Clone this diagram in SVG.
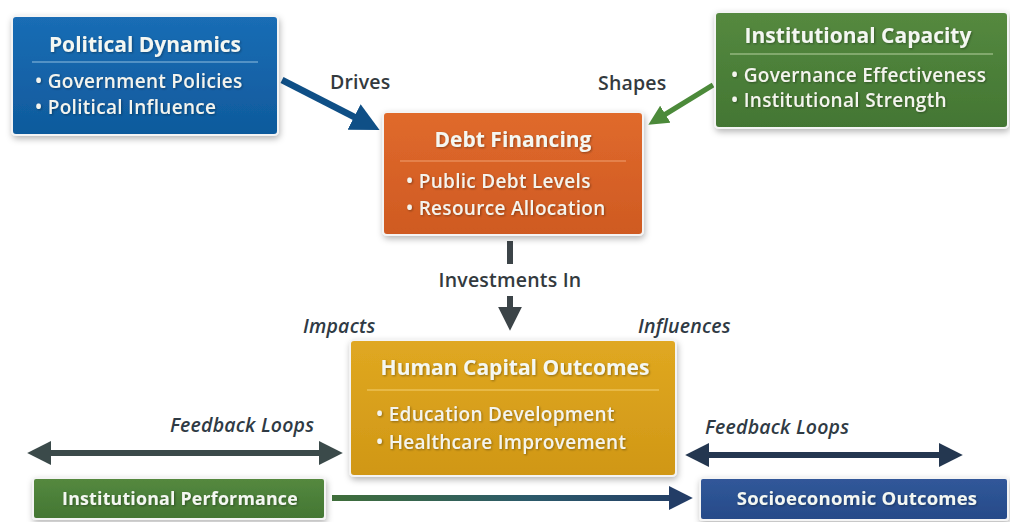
<svg xmlns="http://www.w3.org/2000/svg" width="1010" height="522" viewBox="0 0 1010 522">
  <defs>
    <filter id="shadow" x="-10%" y="-10%" width="125%" height="135%">
      <feDropShadow dx="1" dy="3" stdDeviation="3" flood-color="#000" flood-opacity="0.28"/>
    </filter>
    <filter id="tshadow" x="-5%" y="-20%" width="110%" height="150%">
      <feDropShadow dx="1" dy="1" stdDeviation="0.8" flood-color="#000" flood-opacity="0.35"/>
    </filter>
    <linearGradient id="gBlue" x1="0" y1="0" x2="0" y2="1">
      <stop offset="0" stop-color="#1a6db5"/>
      <stop offset="1" stop-color="#0f5a9c"/>
    </linearGradient>
    <linearGradient id="gGreen" x1="0" y1="0" x2="0" y2="1">
      <stop offset="0" stop-color="#55893f"/>
      <stop offset="1" stop-color="#437633"/>
    </linearGradient>
    <linearGradient id="gOrange" x1="0" y1="0" x2="0" y2="1">
      <stop offset="0" stop-color="#e06a2c"/>
      <stop offset="1" stop-color="#cf5a22"/>
    </linearGradient>
    <linearGradient id="gGold" x1="0" y1="0" x2="0" y2="1">
      <stop offset="0" stop-color="#e0a821"/>
      <stop offset="1" stop-color="#d09716"/>
    </linearGradient>
    <linearGradient id="gNavy" x1="0" y1="0" x2="0" y2="1">
      <stop offset="0" stop-color="#31589a"/>
      <stop offset="1" stop-color="#264a88"/>
    </linearGradient>
    <linearGradient id="gFlow" x1="331" y1="0" x2="690" y2="0" gradientUnits="userSpaceOnUse">
      <stop offset="0" stop-color="#3f6e3a"/>
      <stop offset="0.55" stop-color="#2c5a6a"/>
      <stop offset="1" stop-color="#233d66"/>
    </linearGradient>
    <marker id="hBlue" markerWidth="4.4" markerHeight="4.4" refX="2.4" refY="2.2" orient="auto" markerUnits="strokeWidth">
      <path d="M0,0 L4.4,2.2 L0,4.4 z" fill="#0f4f86"/>
    </marker>
    <marker id="hGreen" markerWidth="4" markerHeight="4" refX="2.2" refY="2" orient="auto" markerUnits="strokeWidth">
      <path d="M0,0 L4,2 L0,4 z" fill="#4c8a3a"/>
    </marker>
    <marker id="hGray" markerWidth="4" markerHeight="4" refX="2.2" refY="2" orient="auto" markerUnits="strokeWidth">
      <path d="M0,0 L4,2 L0,4 z" fill="#3c4448"/>
    </marker>
    <marker id="hSlate" markerWidth="4" markerHeight="4" refX="2.2" refY="2" orient="auto-start-reverse" markerUnits="strokeWidth">
      <path d="M0,0 L4,2 L0,4 z" fill="#3b4a4a"/>
    </marker>
    <marker id="hNavy" markerWidth="4" markerHeight="4" refX="2.2" refY="2" orient="auto-start-reverse" markerUnits="strokeWidth">
      <path d="M0,0 L4,2 L0,4 z" fill="#243750"/>
    </marker>
    <marker id="hFlow" markerWidth="4" markerHeight="4" refX="2.2" refY="2" orient="auto" markerUnits="strokeWidth">
      <path d="M0,0 L4,2 L0,4 z" fill="#233d66"/>
    </marker>
  </defs>
  <style>
    .box { stroke: #f4f4f4; stroke-width: 2; filter: url(#shadow); }
    .title { font-family: "Open Sans", "Liberation Sans", sans-serif; font-weight: 700; font-size: 21px; fill: #f4f7f2; text-anchor: middle; filter: url(#tshadow); }
    .sub { font-size: 18.5px; letter-spacing: 0.2px; }
    .item { font-family: "Open Sans", "Liberation Sans", sans-serif; font-weight: 600; font-size: 19px; letter-spacing: 0.3px; fill: #f4f4ee; filter: url(#tshadow); }
    .sep { stroke-width: 1.2; }
    .lbl { font-family: "Open Sans", "Liberation Sans", sans-serif; font-weight: 600; font-size: 19.5px; letter-spacing: 0.2px; fill: #333a3e; }
    .ilbl { font-family: "Open Sans", "Liberation Sans", sans-serif; font-weight: 600; font-style: italic; font-size: 19.5px; letter-spacing: 0.2px; fill: #2f3a44; }
    .line { fill: none; }
  </style>
  <rect width="1010" height="522" fill="#ffffff"/>

  <!-- connectors -->
  <g id="connectors">
    <line class="line" x1="282" y1="80" x2="368" y2="124" stroke="#0f4f86" stroke-width="6.5" marker-end="url(#hBlue)"/>
    <line class="line" x1="713" y1="85" x2="656" y2="120" stroke="#4c8a3a" stroke-width="5" marker-end="url(#hGreen)"/>
    <line class="line" x1="510" y1="241" x2="510" y2="264" stroke="#3c4448" stroke-width="6"/>
    <line class="line" x1="510" y1="296" x2="510" y2="320" stroke="#3c4448" stroke-width="6" marker-end="url(#hGray)"/>
    <line class="line" x1="38" y1="453" x2="332" y2="453" stroke="#3b4a4a" stroke-width="6" marker-start="url(#hSlate)" marker-end="url(#hSlate)"/>
    <line class="line" x1="696" y1="455" x2="952" y2="455" stroke="#243750" stroke-width="6" marker-start="url(#hNavy)" marker-end="url(#hNavy)"/>
    <line class="line" x1="332" y1="498" x2="682" y2="498" stroke="url(#gFlow)" stroke-width="6" marker-end="url(#hFlow)"/>
    <text class="lbl" x="330" y="89">Drives</text>
    <text class="lbl" x="598" y="90">Shapes</text>
    <text class="lbl" x="510" y="287" text-anchor="middle">Investments In</text>
    <text class="ilbl" x="303" y="333">Impacts</text>
    <text class="ilbl" x="638" y="333">Influences</text>
    <text class="ilbl" x="170" y="432">Feedback Loops</text>
    <text class="ilbl" x="705" y="434">Feedback Loops</text>
  </g>

  <!-- Political Dynamics -->
  <g id="political-dynamics">
    <rect class="box" x="12" y="16" width="266" height="119" rx="4" fill="url(#gBlue)"/>
    <text class="title" x="145" y="52" fill="#e8f4fb">Political Dynamics</text>
    <line class="sep" x1="32" y1="62" x2="258" y2="62" stroke="#8fbde0"/>
    <text class="item" x="35" y="88">• Government Policies</text>
    <text class="item" x="35" y="114">• Political Influence</text>
  </g>

  <!-- Institutional Capacity -->
  <g id="institutional-capacity">
    <rect class="box" x="715" y="12" width="293" height="116" rx="4" fill="url(#gGreen)"/>
    <text class="title" x="858" y="43">Institutional Capacity</text>
    <line class="sep" x1="730" y1="54" x2="993" y2="54" stroke="#b5d09f"/>
    <text class="item" x="731" y="82">• Governance Effectiveness</text>
    <text class="item" x="731" y="107">• Institutional Strength</text>
  </g>

  <!-- Debt Financing -->
  <g id="debt-financing">
    <rect class="box" x="383" y="112" width="260" height="123" rx="4" fill="url(#gOrange)"/>
    <text class="title" x="513" y="147">Debt Financing</text>
    <line class="sep" x1="400" y1="161" x2="626" y2="161" stroke="#f0a070"/>
    <text class="item" x="406" y="188">• Public Debt Levels</text>
    <text class="item" x="406" y="215">• Resource Allocation</text>
  </g>

  <!-- Human Capital Outcomes -->
  <g id="human-capital-outcomes">
    <rect class="box" x="350" y="340" width="326" height="136" rx="4" fill="url(#gGold)"/>
    <text class="title" x="515" y="375">Human Capital Outcomes</text>
    <line class="sep" x1="367" y1="390" x2="659" y2="390" stroke="#f3cf70"/>
    <text class="item" x="376" y="421">• Education Development</text>
    <text class="item" x="376" y="449">• Healthcare Improvement</text>
  </g>

  <!-- Institutional Performance -->
  <g id="institutional-performance">
    <rect class="box" x="33" y="478" width="292" height="41" rx="3" fill="url(#gGreen)"/>
    <text class="title sub" x="180" y="505" style="font-size:17.8px">Institutional Performance</text>
  </g>

  <!-- Socioeconomic Outcomes -->
  <g id="socioeconomic-outcomes">
    <rect class="box" x="700" y="478" width="308" height="42" rx="3" fill="url(#gNavy)"/>
    <text class="title sub" x="857" y="505">Socioeconomic Outcomes</text>
  </g>
</svg>
